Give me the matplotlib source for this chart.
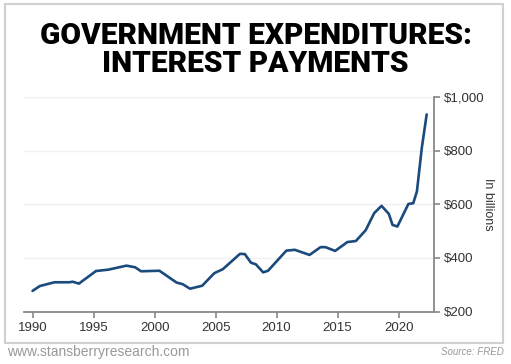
import matplotlib.pyplot as plt
from matplotlib.patches import Rectangle
from matplotlib.ticker import FuncFormatter

# Interest payments, billions of dollars
years = [1990.0, 1990.6, 1991.8, 1993.0, 1993.3, 1993.8, 1995.2, 1996.2, 1997.7,
         1998.4, 1998.9, 2000.4, 2001.8, 2002.3, 2002.9, 2003.9, 2004.9, 2005.6,
         2007.0, 2007.4, 2007.9, 2008.3, 2008.9, 2009.3, 2010.8, 2011.5, 2012.7,
         2013.6, 2014.0, 2014.8, 2015.8, 2016.5, 2017.3, 2018.0, 2018.6, 2019.2,
         2019.5, 2019.9, 2020.8, 2021.2, 2021.5, 2021.9, 2022.3]
payments = [277, 295, 309, 309, 311, 304, 351, 356, 371,
            365, 350, 352, 308, 302, 285, 296, 343, 358,
            415, 414, 382, 376, 346, 352, 427, 430, 411,
            440, 440, 426, 459, 463, 503, 567, 594, 564,
            523, 517, 601, 604, 648, 810, 935]
x_ticks = [1990, 1995, 2000, 2005, 2010, 2015, 2020]
y_ticks = [200, 400, 600, 800, 1000]

fig = plt.figure(figsize=(5.11, 3.64), dpi=100)
ax = fig.add_axes([24 / 511, 1 - 311.5 / 364, 410 / 511, 214.5 / 364])

ax.plot(years, payments, color='#1b4a7c', lw=1.9, solid_capstyle='round')

ax.set_xlim(1989.3, 2022.9)
ax.set_ylim(200, 1000)
ax.set_xticks(x_ticks)
ax.set_yticks(y_ticks)
ax.yaxis.tick_right()
ax.yaxis.set_label_position('right')
ax.yaxis.set_major_formatter(FuncFormatter(lambda v, p: '${:,.0f}'.format(v)))
ax.grid(axis='y', color='#f0f0f0', lw=1)
ax.set_axisbelow(True)

for s in ['left', 'top']:
    ax.spines[s].set_visible(False)
for s in ['right', 'bottom']:
    ax.spines[s].set_color('#888888')
    ax.spines[s].set_linewidth(1.3)

ax.tick_params(axis='both', colors='#888888', labelcolor='#333333', length=4,
               width=1.2, labelsize=9.5)
ax.tick_params(axis='y', pad=3)
for lab in ax.get_xticklabels() + ax.get_yticklabels():
    lab.set_family('Liberation Sans')
ax.set_ylabel('In billions', rotation=-90, labelpad=7, fontsize=9,
              color='#333333', family='Liberation Sans')

fig.text(0.5, 1 - 50 / 364, 'GOVERNMENT EXPENDITURES:\nINTEREST PAYMENTS',
         ha='center', va='center', fontsize=21.5, fontweight='black',
         family='Roboto', linespacing=1.02, color='black')

# frame around the chart
fig.patches.append(Rectangle((5 / 511, 1 - 343 / 364), 498 / 511, 339 / 364,
                             transform=fig.transFigure, fill=False,
                             edgecolor='#d0d0d0', lw=1.5))

fig.text(7 / 511, 1 - 352 / 364, 'www.stansberryresearch.com', ha='left',
         va='center', fontsize=10, color='#999999', family='Liberation Sans')
fig.text(504 / 511, 1 - 352 / 364, 'Source: FRED', ha='right', va='center',
         fontsize=7, color='#999999', style='italic', family='Liberation Sans')

plt.savefig('out.png', dpi=100)
